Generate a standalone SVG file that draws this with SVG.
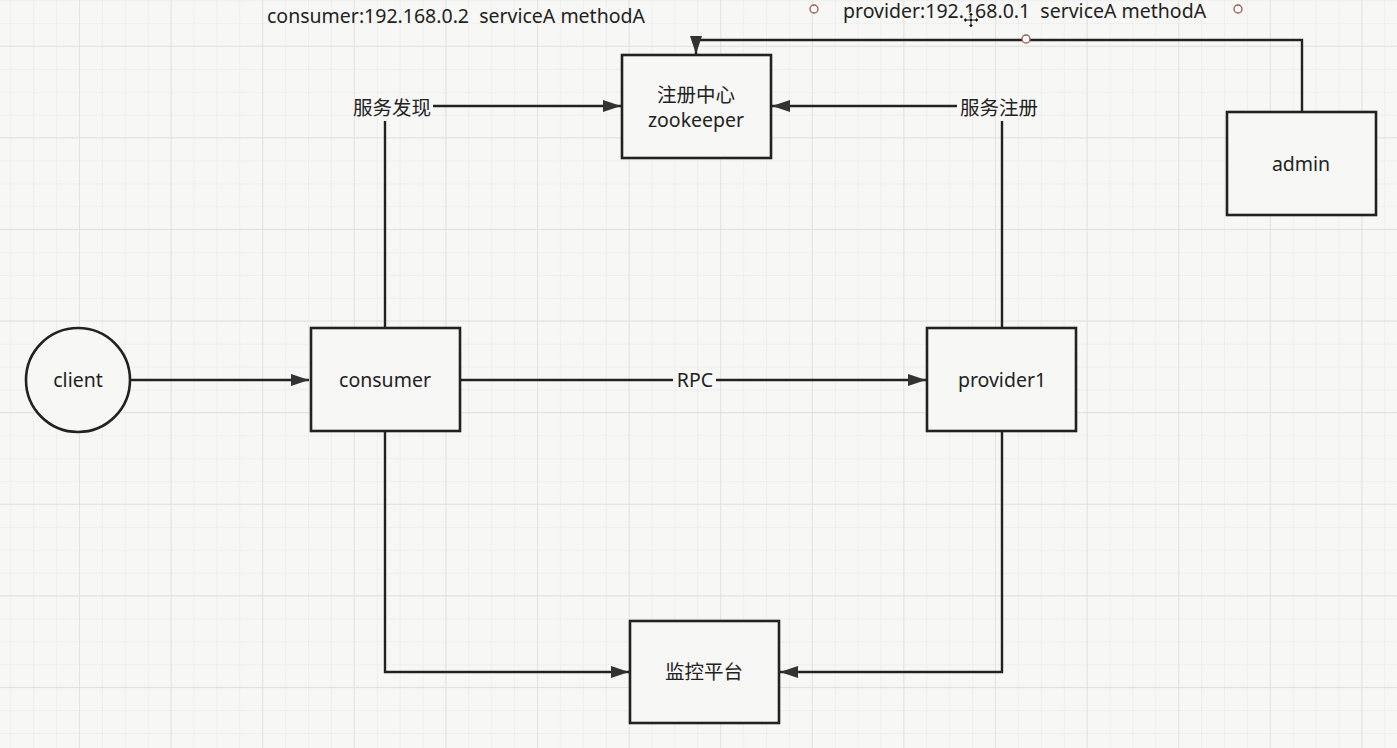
<svg xmlns="http://www.w3.org/2000/svg" width="1397" height="748" viewBox="0 0 1397 748">
<style>
.box{fill:#f7f7f5;stroke:#222;stroke-width:2.6}
.edge{fill:none;stroke:#222;stroke-width:2.4}
.t{font-family:"Noto Sans","Noto Sans CJK SC",sans-serif;font-size:19.5px;fill:#222;text-anchor:middle}
.tl{font-family:"Noto Sans","Noto Sans CJK SC",sans-serif;font-size:19.5px;fill:#222;white-space:pre}
.h{fill:#fff;stroke:#a0584a;stroke-width:1.3}
</style>
<defs>
<pattern id="minor" patternUnits="userSpaceOnUse" x="10.3" y="0.2" width="22.9" height="22.9">
<path d="M0 0H22.9M0 0V22.9" fill="none" stroke="#e7e7e5" stroke-width="1"/>
</pattern>
<pattern id="major" patternUnits="userSpaceOnUse" x="79" y="45.7" width="91.6" height="91.6">
<path d="M0 0H91.6M0 0V91.6" fill="none" stroke="#dcdcda" stroke-width="1.3"/>
</pattern>
<marker id="arr" viewBox="0 0 18 12" refX="18" refY="6" markerWidth="18" markerHeight="12" markerUnits="userSpaceOnUse" orient="auto">
<path d="M0 0L18 6L0 12Z" fill="#333"/>
</marker>
</defs>
<rect width="1397" height="748" fill="#f7f7f5"/>
<rect width="1397" height="748" fill="url(#minor)"/>
<rect width="1397" height="748" fill="url(#major)"/>

<g id="connectors">
<path class="edge" d="M130 380H309" marker-end="url(#arr)"/>
<path class="edge" d="M460 380H673"/>
<path class="edge" d="M716 380H926" marker-end="url(#arr)"/>
<path class="edge" d="M385 328V121"/>
<path class="edge" d="M433 106H621" marker-end="url(#arr)"/>
<path class="edge" d="M1002 328V121"/>
<path class="edge" d="M957 106H772" marker-end="url(#arr)"/>
<path class="edge" d="M385 432V672H629" marker-end="url(#arr)"/>
<path class="edge" d="M1002 432V672H780" marker-end="url(#arr)"/>
<path class="edge" d="M1302 112V40H696V54" marker-end="url(#arr)"/>
<text class="t" x="695" y="387">RPC</text>
<text class="t" x="392" y="115">服务发现</text>
<text class="t" x="999" y="115">服务注册</text>
</g>

<g id="zookeeper">
<rect class="box" x="622" y="55" width="149" height="103"/>
<text class="t" x="696" y="102">注册中心</text>
<text class="t" x="696" y="127">zookeeper</text>
</g>
<g id="admin">
<rect class="box" x="1227" y="112" width="149" height="103"/>
<text class="t" x="1301" y="171">admin</text>
</g>
<g id="client">
<circle class="box" cx="78" cy="380" r="52"/>
<text class="t" x="78" y="387">client</text>
</g>
<g id="consumer">
<rect class="box" x="311" y="328" width="149" height="103"/>
<text class="t" x="385" y="387">consumer</text>
</g>
<g id="provider1">
<rect class="box" x="927" y="328" width="149" height="103"/>
<text class="t" x="1002" y="387">provider1</text>
</g>
<g id="monitor">
<rect class="box" x="630" y="621" width="149" height="102"/>
<text class="t" x="704" y="679">监控平台</text>
</g>

<g id="notes">
<text class="tl" x="267" y="23" xml:space="preserve">consumer:192.168.0.2  serviceA methodA</text>
<text class="tl" x="843" y="18" xml:space="preserve">provider:192.168.0.1  serviceA methodA</text>
<circle class="h" cx="814" cy="9" r="4"/>
<circle class="h" cx="1238" cy="9" r="4"/>
<circle class="h" cx="1026" cy="39" r="4"/>
</g>
<g id="cursor" transform="translate(971,20)">
<path d="M0 -8L3 -4.5H1V-1H4.5V-3L8 0L4.5 3V1H1V4.5H3L0 8L-3 4.5H-1V1H-4.5V3L-8 0L-4.5 -3V-1H-1V-4.5H-3Z" fill="#111" stroke="#fff" stroke-width="1"/>
</g>
</svg>
